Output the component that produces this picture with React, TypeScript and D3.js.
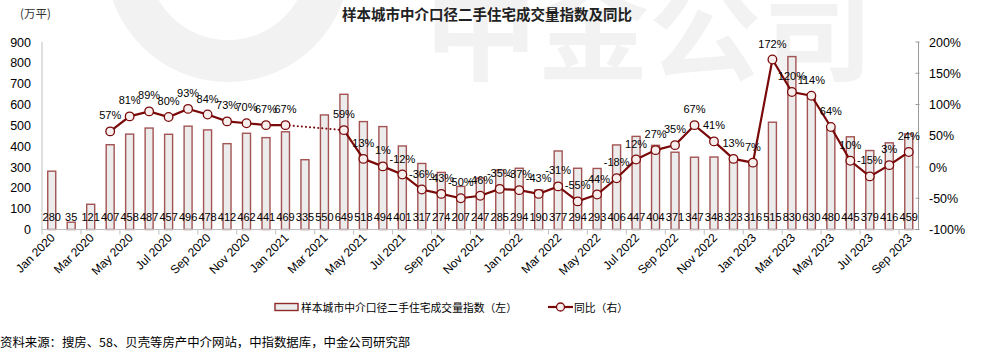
import React from "react";
import * as d3 from "d3";

const months: string[] = [
  "Jan 2020","Feb 2020","Mar 2020","Apr 2020","May 2020","Jun 2020","Jul 2020","Aug 2020","Sep 2020","Oct 2020","Nov 2020","Dec 2020",
  "Jan 2021","Feb 2021","Mar 2021","Apr 2021","May 2021","Jun 2021","Jul 2021","Aug 2021","Sep 2021","Oct 2021","Nov 2021","Dec 2021",
  "Jan 2022","Feb 2022","Mar 2022","Apr 2022","May 2022","Jun 2022","Jul 2022","Aug 2022","Sep 2022","Oct 2022","Nov 2022","Dec 2022",
  "Jan 2023","Feb 2023","Mar 2023","Apr 2023","May 2023","Jun 2023","Jul 2023","Aug 2023","Sep 2023",
];

const volume: number[] = [
  280, 35, 121, 407, 458, 487, 457, 496, 478, 412, 462, 441,
  469, 335, 550, 649, 518, 494, 401, 317, 274, 207, 247, 285,
  294, 190, 377, 294, 293, 406, 447, 404, 371, 347, 348, 323,
  316, 515, 830, 630, 480, 445, 379, 416, 459,
];

const yoy: (number | null)[] = [
  null, null, null, 57, 81, 89, 80, 93, 84, 73, 70, 67,
  67, null, null, 59, 13, 1, -12, -36, -43, -50, -46, -35,
  -37, -43, -31, -55, -44, -18, 12, 27, 35, 67, 41, 13,
  7, 172, 120, 114, 64, 10, -15, 3, 24,
];

const leftTicks: number[] = [0, 100, 200, 300, 400, 500, 600, 700, 800, 900];
const rightTicks: number[] = [-100, -50, 0, 50, 100, 150, 200];

const title = "样本城市中介口径二手住宅成交量指数及同比";
const unit = "(万平)";
const legendBar = "样本城市中介口径二手住宅成交量指数（左）";
const legendLine = "同比（右）";
const source = "资料来源：搜房、58、贝壳等房产中介网站，中指数据库，中金公司研究部";

const W = 984;
const H = 361;
const X0 = 42;
const X1 = 918.5;
const YB = 229.5;
const YT = 42;

const LAT = "'Liberation Sans', Arial, sans-serif";
const CJK = "'Noto Sans CJK SC', 'Liberation Sans', sans-serif";
const RED = "#7a0a0a";

export default function App() {
  const x = d3.scaleBand<string>().domain(months).range([X0, X1]).paddingInner(0).paddingOuter(0);
  const yL = d3.scaleLinear().domain([0, 900]).range([YB, YT]);
  const yR = d3.scaleLinear().domain([-100, 200]).range([YB, YT]);
  const bw = 8;
  const cx = (m: string) => (x(m) as number) + x.bandwidth() / 2;

  const pts = months.map((m, i) => ({ m, v: yoy[i], i }));
  const solid = d3
    .line<{ m: string; v: number | null; i: number }>()
    .defined((d) => d.v !== null)
    .x((d) => cx(d.m))
    .y((d) => yR(d.v as number));

  // dotted connector across gaps
  const gaps: { a: number; b: number }[] = [];
  let last = -1;
  yoy.forEach((v, i) => {
    if (v !== null) {
      if (last >= 0 && i - last > 1) gaps.push({ a: last, b: i });
      last = i;
    }
  });

  return (
    <svg width={W} height={H} style={{ position: "absolute", left: 0, top: 0, background: "#fff" }}>
      {/* watermark */}
      <g fill="#f2f2f2">
        <path
          d={
            d3.arc()({ innerRadius: 80, outerRadius: 122, startAngle: 0, endAngle: Math.PI * 2 }) as string
          }
          transform="translate(228,-40)"
        />
        <text x={425} y={72} fontFamily={CJK} fontWeight="bold" fontSize={112}>
          中金公司
        </text>
      </g>

      {/* title */}
      <text x={487} y={20} textAnchor="middle" fontFamily={CJK} fontWeight="bold" fontSize={14.5} fill="#222">
        {title}
      </text>
      <text x={20} y={18} fontFamily={CJK} fontSize={11.5} fill="#333">
        {unit}
      </text>

      {/* bars */}
      {months.map((m, i) => (
        <rect
          key={m}
          x={cx(m) - bw / 2}
          y={yL(volume[i])}
          width={bw}
          height={YB - yL(volume[i])}
          fill="#ececec"
          stroke="#8e2a2a"
          strokeOpacity={0.8}
          strokeWidth={1.4}
        />
      ))}

      {/* axes */}
      <line x1={X0} x2={X0} y1={YT} y2={YB} stroke="#bfbfbf" />
      <line x1={X1} x2={X1} y1={YT} y2={YB} stroke="#999" />
      <line x1={X0} x2={X1} y1={YB} y2={YB} stroke="#bfbfbf" />
      {months.map((m, i) =>
        i % 2 === 0 ? (
          <line key={"xt" + m} x1={x(m) as number} x2={x(m) as number} y1={YB} y2={YB + 5} stroke="#bfbfbf" />
        ) : null
      )}
      {rightTicks.map((t) => (
        <line key={"rt" + t} x1={X1 - 3} x2={X1 + 1} y1={yR(t)} y2={yR(t)} stroke="#999" />
      ))}

      {leftTicks.map((t) => (
        <text key={"lt" + t} x={31} y={yL(t) + 4.5} textAnchor="end" fontFamily={LAT} fontSize={12.5} fill="#000">
          {t}
        </text>
      ))}
      {rightTicks.map((t) => (
        <text key={"rl" + t} x={929} y={yR(t) + 4.5} textAnchor="start" fontFamily={LAT} fontSize={12.5} fill="#000">
          {t + "%"}
        </text>
      ))}

      {months.map((m, i) =>
        i % 2 === 0 ? (
          <text
            key={"xl" + m}
            transform={`translate(${cx(m) + 4},${YB + 9}) rotate(-45)`}
            textAnchor="end"
            fontFamily={LAT}
            fontSize={12}
            fill="#000"
          >
            {m}
          </text>
        ) : null
      )}

      {/* bar value labels */}
      {months.map((m, i) => (
        <text key={"bv" + m} x={cx(m)} y={221} textAnchor="middle" fontFamily={LAT} fontSize={11} fill="#000">
          {volume[i]}
        </text>
      ))}

      {/* yoy line */}
      {gaps.map((g) => (
        <line
          key={"gap" + g.a}
          x1={cx(months[g.a])}
          y1={yR(yoy[g.a] as number)}
          x2={cx(months[g.b])}
          y2={yR(yoy[g.b] as number)}
          stroke={RED}
          strokeWidth={2}
          strokeDasharray="0.1 4"
          strokeLinecap="round"
        />
      ))}
      <path d={solid(pts) as string} fill="none" stroke={RED} strokeWidth={2.2} />
      {pts
        .filter((d) => d.v !== null)
        .map((d) => (
          <circle key={"pt" + d.m} cx={cx(d.m)} cy={yR(d.v as number)} r={4.3} fill="#f7eeee" stroke={RED} strokeWidth={1.3} />
        ))}
      {pts
        .filter((d) => d.v !== null)
        .map((d) => (
          <text
            key={"pl" + d.m}
            x={cx(d.m)}
            y={yR(d.v as number) - 12}
            textAnchor="middle"
            fontFamily={LAT}
            fontSize={11}
            fill="#000"
          >
            {d.v + "%"}
          </text>
        ))}

      {/* legend */}
      <rect x={275} y={303.5} width={23} height={7} fill="#ececec" stroke="#8e2a2a" strokeWidth={1.4} />
      <text x={301} y={312} fontFamily={CJK} fontSize={10.8} fill="#000">
        {legendBar}
      </text>
      <line x1={548} x2={573} y1={307} y2={307} stroke={RED} strokeWidth={2.2} />
      <circle cx={560.5} cy={307} r={4} fill="#f7eeee" stroke={RED} strokeWidth={1.3} />
      <text x={574} y={312} fontFamily={CJK} fontSize={10.8} fill="#000">
        {legendLine}
      </text>

      {/* source */}
      <text x={0} y={347} fontFamily={CJK} fontSize={12.4} fill="#000">
        {source}
      </text>
    </svg>
  );
}
